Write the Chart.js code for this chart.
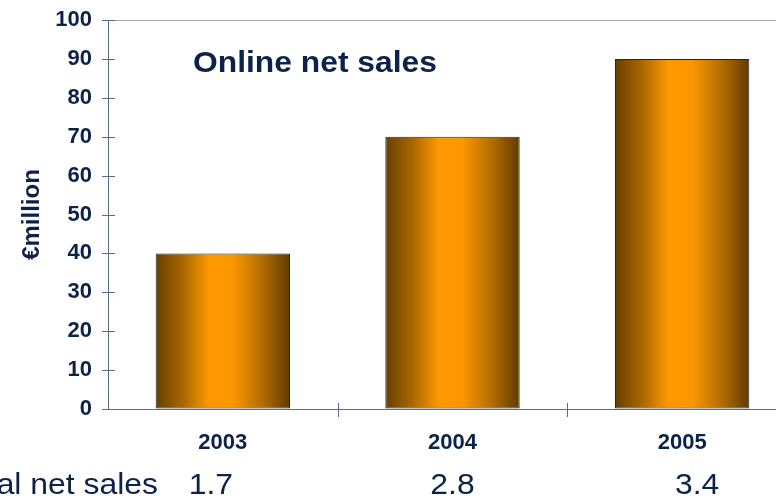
<!DOCTYPE html>
<html lang="en">
<head>
  <meta charset="UTF-8" />
  <title>Online net sales</title>
  <script src="https://cdn.jsdelivr.net/npm/chart.js"></script>
  <style>
    * { box-sizing: border-box; margin: 0; padding: 0; }
    html, body { width: 776px; height: 501px; overflow: hidden; background: #fff; }
    .wrap { position: relative; width: 800px; height: 501px; }
  </style>
</head>
<body>
  <div class="wrap">
    <canvas id="salesChart" width="800" height="501"></canvas>
  </div>

  <script>
    const years = ["2003", "2004", "2005"];
    const onlineSales = [40, 70, 90];
    const totalSales = ["1.7", "2.8", "3.4"];
    const yTicks = [0, 10, 20, 30, 40, 50, 60, 70, 80, 90, 100];

    const navy = "#0c2248";
    const axisGray = "#5a6b85";
    const barPct = 0.585;
    const totalShift = [-12, 0, 15];
    const fontFam = "'Liberation Sans', Arial, sans-serif";

    // orange bar with dark edges, one gradient per bar
    function barFill(c) {
      const x = c.chart.scales.x;
      if (!x || !x.width) return "#ff9900";
      const cx = x.getPixelForValue(c.dataIndex);
      const w = (x.width / years.length) * barPct;
      const x0 = cx - w / 2;
      const g = c.chart.ctx.createLinearGradient(x0, 0, x0 + w, 0);
      g.addColorStop(0, "#664000");
      g.addColorStop(0.2, "#a86600");
      g.addColorStop(0.4, "#ff9900");
      g.addColorStop(0.58, "#fa9600");
      g.addColorStop(0.8, "#b06b00");
      g.addColorStop(1, "#603b00");
      return g;
    }

    function wideText(ctx, text, x, y, sx) {
      ctx.save();
      ctx.translate(x, y);
      ctx.scale(sx, 1);
      ctx.fillText(text, 0, 0);
      ctx.restore();
    }

    const extras = {
      id: "extras",
      afterDraw(chart) {
        const ctx = chart.ctx;
        const x = chart.scales.x, y = chart.scales.y;
        const area = chart.chartArea;
        ctx.save();
        // crossing tick marks
        ctx.strokeStyle = axisGray;
        ctx.lineWidth = 1;
        ctx.beginPath();
        yTicks.forEach(v => {
          const py = Math.round(y.getPixelForValue(v)) + 0.5;
          ctx.moveTo(area.left - 6, py);
          ctx.lineTo(area.left + 7, py);
        });
        for (let i = 0; i < years.length - 1; i++) {
          const px = Math.round((x.getPixelForValue(i) + x.getPixelForValue(i + 1)) / 2) + 0.5;
          ctx.moveTo(px, area.bottom - 6);
          ctx.lineTo(px, area.bottom + 8);
        }
        ctx.stroke();

        // inner title
        ctx.fillStyle = navy;
        ctx.font = "bold 30px " + fontFam;
        ctx.textAlign = "left";
        ctx.textBaseline = "middle";
        wideText(ctx, "Online net sales", 193, 64, 1.06);

        // total net sales row
        ctx.font = "29px " + fontFam;
        ctx.textAlign = "right";
        wideText(ctx, "Total net sales", 158, 486, 1.1);
        ctx.textAlign = "center";
        totalSales.forEach((t, i) => {
          wideText(ctx, t, x.getPixelForValue(i) + totalShift[i], 486, 1.1);
        });
        ctx.restore();
      }
    };

    new Chart(document.getElementById("salesChart"), {
      type: "bar",
      data: {
        labels: years,
        datasets: [{
          data: onlineSales,
          backgroundColor: barFill,
          borderColor: "#13294b",
          borderWidth: 1,
          borderSkipped: false,
          categoryPercentage: 1,
          barPercentage: barPct
        }]
      },
      options: {
        responsive: false,
        devicePixelRatio: 1,
        animation: false,
        layout: { padding: { top: 20, right: 3, left: 0, bottom: 0 } },
        plugins: { legend: { display: false }, tooltip: { enabled: false } },
        scales: {
          x: {
            afterFit: s => { s.height = 92; s.paddingLeft = 0; s.paddingRight = 0; },
            grid: { display: false, drawTicks: false },
            border: { color: axisGray, width: 1 },
            ticks: {
              padding: 21,
              color: navy,
              font: { family: fontFam, size: 22, weight: "bold" }
            }
          },
          y: {
            min: 0,
            max: 100,
            afterFit: s => { s.width = 108; s.paddingTop = 0; s.paddingBottom = 0; },
            grid: {
              drawTicks: false,
              color: c => (c.tick && c.tick.value === 100 ? "#a8a8a8" : "rgba(0,0,0,0)")
            },
            border: { color: axisGray, width: 1 },
            ticks: {
              stepSize: 10,
              padding: 16,
              color: navy,
              font: { family: fontFam, size: 22, weight: "bold" }
            },
            title: {
              display: true,
              text: "€million",
              color: navy,
              padding: { top: 18, bottom: 0 },
              font: { family: fontFam, size: 24, weight: "bold" }
            }
          }
        }
      },
      plugins: [extras]
    });
  </script>
</body>
</html>
